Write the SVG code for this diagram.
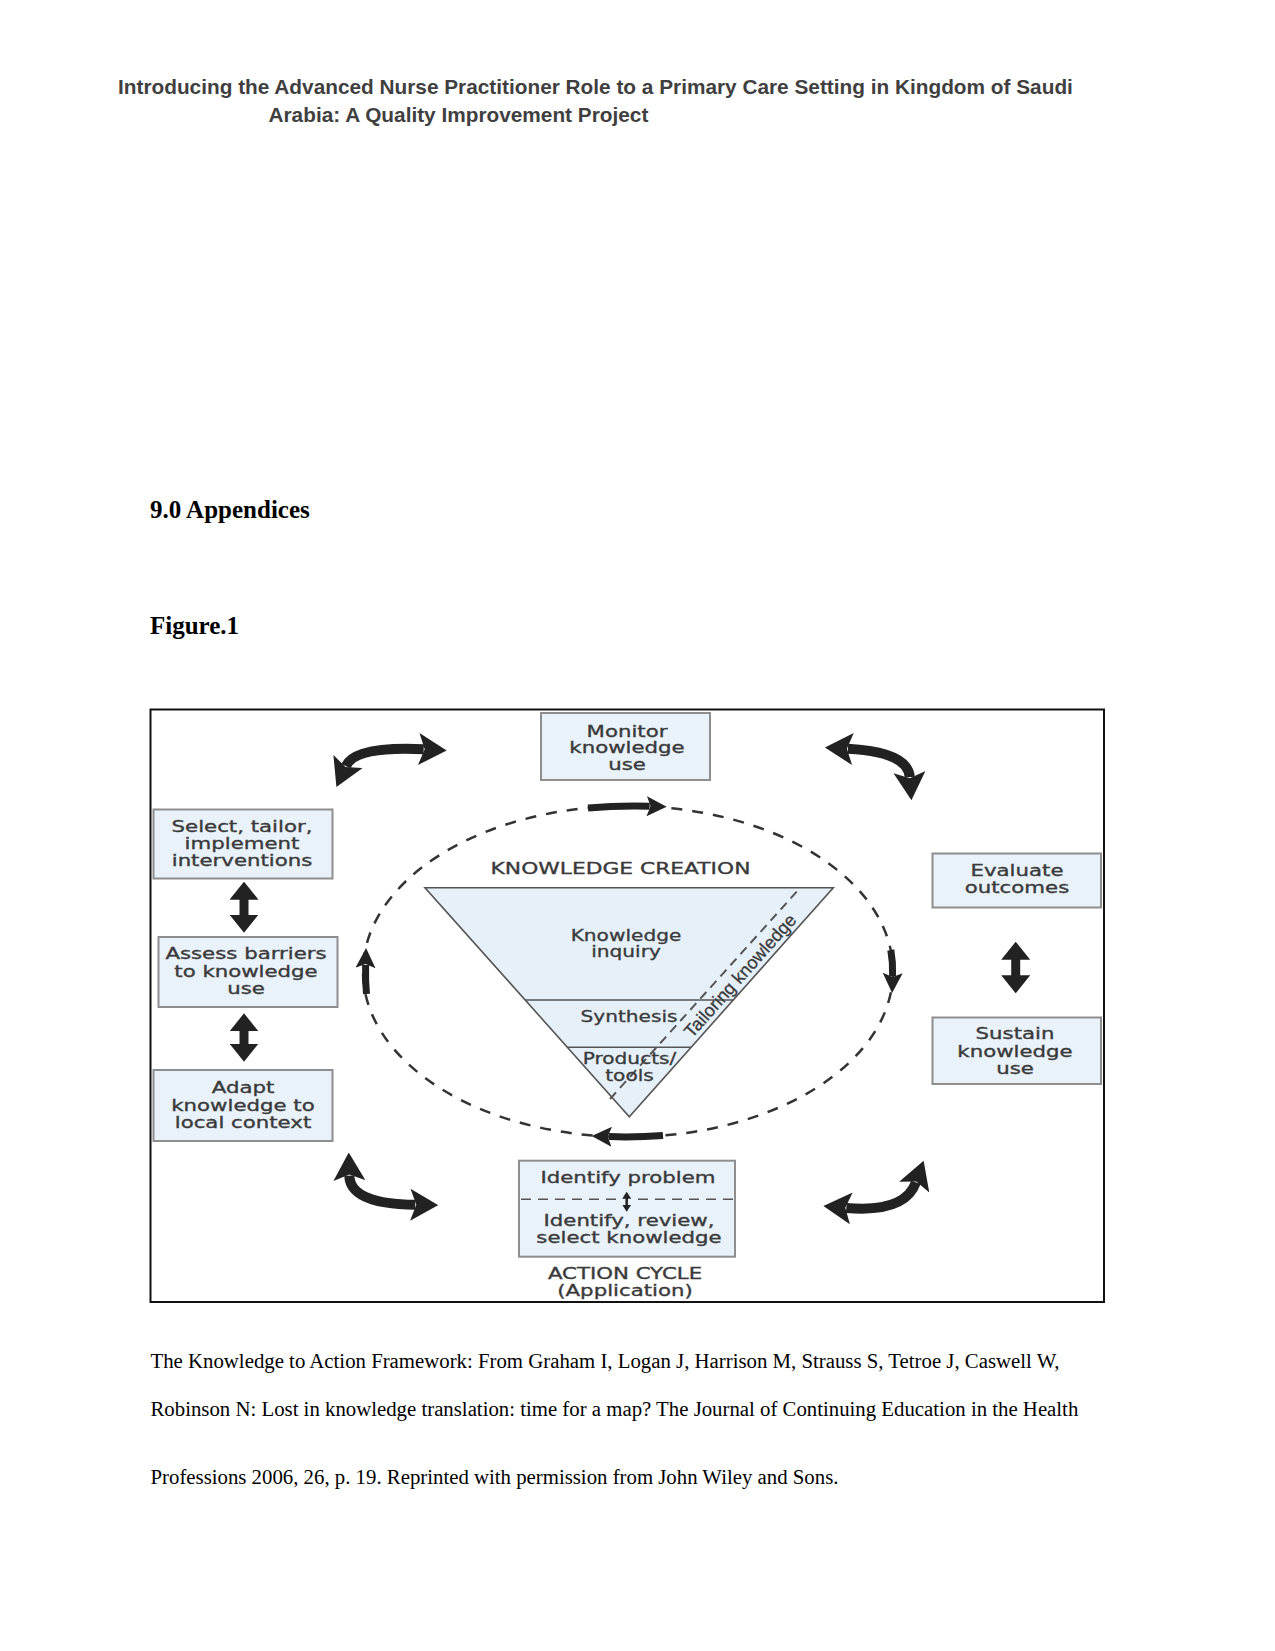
<svg xmlns="http://www.w3.org/2000/svg" width="1275" height="1651" viewBox="0 0 1275 1651">
<style>
.hd{font-family:"Liberation Sans",Arial,sans-serif;font-weight:bold;font-size:20.8px;fill:#3f3f3f}
.tb{font-family:"Liberation Serif","Times New Roman",serif;font-weight:bold;font-size:25px;fill:#000}
.tm{font-family:"Liberation Serif","Times New Roman",serif;font-size:20.8px;fill:#000}
.box{fill:#e9f1f9;stroke:#8e8e8e;stroke-width:2}
.ft{font-family:"DejaVu Sans",Verdana,sans-serif;font-size:16.5px;fill:#3a3a3a;stroke:#3a3a3a;stroke-width:0.35px;text-anchor:middle}
.fs{font-family:"DejaVu Sans",Verdana,sans-serif;font-size:15.5px;fill:#3a3a3a;stroke:#3a3a3a;stroke-width:0.3px;text-anchor:middle}
.dbl{fill:none;stroke:#222;stroke-width:9;marker-start:url(#hv);marker-end:url(#hv)}
.arc{fill:none;stroke:#222;stroke-width:10;marker-start:url(#hb);marker-end:url(#hb)}
.cyc{fill:none;stroke:#222;stroke-width:7;marker-end:url(#hs)}
.dash{fill:none;stroke:#333;stroke-width:2.5;stroke-dasharray:11 10}
.tri{fill:#e6f0f8;stroke:#555;stroke-width:1.6}
</style>
<defs>
<marker id="hv" markerUnits="userSpaceOnUse" markerWidth="18" markerHeight="29" viewBox="0 0 18 29" refX="1" refY="14.5" orient="auto-start-reverse"><path d="M0,0 L18,14.5 L0,29 Z" fill="#222"/></marker>
<marker id="hb" markerUnits="userSpaceOnUse" markerWidth="28" markerHeight="32" viewBox="0 0 28 32" refX="5" refY="16" orient="auto-start-reverse"><path d="M0,0 L28,16 L0,32 L6,16 Z" fill="#222"/></marker>
<marker id="hs" markerUnits="userSpaceOnUse" markerWidth="20" markerHeight="20" viewBox="0 0 20 20" refX="3" refY="10" orient="auto"><path d="M0,0 L20,10 L0,20 L4,10 Z" fill="#222"/></marker>
<marker id="ht" markerUnits="userSpaceOnUse" markerWidth="7" markerHeight="9" viewBox="0 0 7 9" refX="1" refY="4.5" orient="auto-start-reverse"><path d="M0,0 L7,4.5 L0,9 Z" fill="#222"/></marker>
</defs>
<rect x="0" y="0" width="1275" height="1651" fill="#fff"/>

<g id="header">
<text class="hd" x="118" y="93.5">Introducing the Advanced Nurse Practitioner Role to a Primary Care Setting in Kingdom of Saudi</text>
<text class="hd" x="268.5" y="122">Arabia: A Quality Improvement Project</text>
</g>
<text class="tb" x="150" y="518">9.0 Appendices</text>
<text class="tb" x="150" y="633.5">Figure.1</text>

<rect id="figure-frame" x="150.5" y="709.5" width="953.5" height="592.5" fill="#fff" stroke="#111" stroke-width="2"/>

<g id="connectors">
<ellipse class="dash" cx="628" cy="971.5" rx="265" ry="165.5"/>
<path class="cyc" d="M588,807.9 Q618,805.5 649.7,806.3"/>
<path class="cyc" d="M890.8,950 Q893,962 892.6,976"/>
<path class="cyc" d="M663,1135.5 Q636,1137.5 608.7,1136.6"/>
<path class="cyc" d="M366.5,994 Q365.2,980 365.6,965"/>
<path class="arc" d="M345.9,766.1 Q355,746 423.7,749.3"/>
<path class="arc" d="M847.9,748.8 Q908,752 909.8,777.2"/>
<path class="arc" d="M349.3,1175.6 Q350,1204 415.3,1204.8"/>
<path class="arc" d="M846.3,1207.9 Q905,1213 915.9,1182.4"/>
<line class="dbl" x1="244" y1="898.7" x2="244" y2="915.7"/>
<line class="dbl" x1="244" y1="1030.3" x2="244" y2="1044.7"/>
<line class="dbl" x1="1015.7" y1="958.7" x2="1015.7" y2="976.3"/>
</g>

<g id="knowledge-creation">
<text class="ft" transform="translate(620.5,874) scale(1.32,1)" style="font-size:16.5px">KNOWLEDGE CREATION</text>
<polygon class="tri" points="425,887.7 833.3,887.7 629.3,1116.7"/>
<line x1="525.2" y1="1000" x2="733.4" y2="1000" stroke="#555" stroke-width="1.6"/>
<line x1="567.4" y1="1047.3" x2="691.1" y2="1047.3" stroke="#555" stroke-width="1.6"/>
<line x1="796.7" y1="891.7" x2="610" y2="1099" stroke="#555" stroke-width="2" stroke-dasharray="9 6"/>
<text class="fs" transform="translate(626,940.7) scale(1.3,1)"><tspan x="0">Knowledge</tspan><tspan x="0" dy="16">inquiry</tspan></text>
<text class="fs" transform="translate(629,1021.7) scale(1.3,1)">Synthesis</text>
<text class="fs" transform="translate(629.5,1064) scale(1.3,1)"><tspan x="0">Products/</tspan><tspan x="0" dy="17.5">tools</tspan></text>
<text transform="translate(744.7,979.7) rotate(-48.3)" text-anchor="middle" font-family="Liberation Sans, Arial, sans-serif" font-size="18" fill="#3a3a3a" stroke="#3a3a3a" stroke-width="0.3">Tailoring knowledge</text>
</g>

<g id="monitor">
<rect class="box" x="541" y="713" width="169" height="67"/>
<text class="ft" transform="translate(627,736.5) scale(1.29,1)"><tspan x="0">Monitor</tspan><tspan x="0" dy="17">knowledge</tspan><tspan x="0" dy="17">use</tspan></text>
</g>
<g id="select">
<rect class="box" x="153.5" y="809.5" width="179" height="69"/>
<text class="ft" transform="translate(242,831.7) scale(1.29,1)"><tspan x="0">Select, tailor,</tspan><tspan x="0" dy="17.4">implement</tspan><tspan x="0" dy="17.4">interventions</tspan></text>
</g>
<g id="assess">
<rect class="box" x="158.5" y="937" width="179" height="70"/>
<text class="ft" transform="translate(246,959.3) scale(1.29,1)"><tspan x="0">Assess barriers</tspan><tspan x="0" dy="17.4">to knowledge</tspan><tspan x="0" dy="17.4">use</tspan></text>
</g>
<g id="adapt">
<rect class="box" x="153.5" y="1070" width="179" height="71"/>
<text class="ft" transform="translate(243,1093.3) scale(1.29,1)"><tspan x="0">Adapt</tspan><tspan x="0" dy="17.4">knowledge to</tspan><tspan x="0" dy="17.4">local context</tspan></text>
</g>
<g id="evaluate">
<rect class="box" x="932.5" y="853.5" width="168.5" height="54"/>
<text class="ft" transform="translate(1017,875.7) scale(1.29,1)"><tspan x="0">Evaluate</tspan><tspan x="0" dy="17.6">outcomes</tspan></text>
</g>
<g id="sustain">
<rect class="box" x="932.5" y="1017.5" width="168.5" height="66.5"/>
<text class="ft" transform="translate(1015,1039.3) scale(1.29,1)"><tspan x="0">Sustain</tspan><tspan x="0" dy="17.4">knowledge</tspan><tspan x="0" dy="17.4">use</tspan></text>
</g>
<g id="identify">
<rect class="box" x="519" y="1160.7" width="216" height="96"/>
<line x1="521" y1="1199.3" x2="616" y2="1199.3" stroke="#555" stroke-width="1.6" stroke-dasharray="10 7"/>
<line x1="638" y1="1199.3" x2="733" y2="1199.3" stroke="#555" stroke-width="1.6" stroke-dasharray="10 7"/>
<line x1="626.7" y1="1197.7" x2="626.7" y2="1205.7" stroke="#222" stroke-width="2.5" marker-start="url(#ht)" marker-end="url(#ht)"/>
<text class="ft" transform="translate(628,1183.3) scale(1.29,1)">Identify problem</text>
<text class="ft" transform="translate(629,1226) scale(1.29,1)"><tspan x="0">Identify, review,</tspan><tspan x="0" dy="17.3">select knowledge</tspan></text>
</g>
<g id="action-cycle">
<text class="ft" transform="translate(625,1279.3) scale(1.29,1)"><tspan x="0">ACTION CYCLE</tspan><tspan x="0" dy="16.7">(Application)</tspan></text>
</g>

<g id="caption">
<text class="tm" x="150.5" y="1368">The Knowledge to Action Framework: From Graham I, Logan J, Harrison M, Strauss S, Tetroe J, Caswell W,</text>
<text class="tm" x="150.5" y="1416">Robinson N: Lost in knowledge translation: time for a map? The Journal of Continuing Education in the Health</text>
<text class="tm" x="150.5" y="1484">Professions 2006, 26, p. 19. Reprinted with permission from John Wiley and Sons.</text>
</g>
</svg>
